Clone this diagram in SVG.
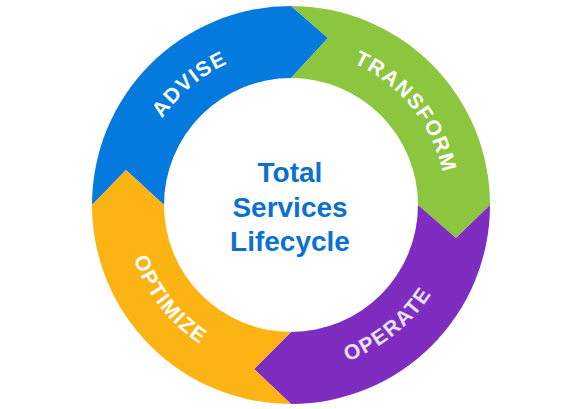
<svg xmlns="http://www.w3.org/2000/svg" xmlns:xlink="http://www.w3.org/1999/xlink" width="581" height="409" viewBox="0 0 581 409">
<style>
.lbl{font-family:"Liberation Sans",Arial,sans-serif;font-weight:bold;font-size:21px;letter-spacing:1.5px;fill:#ffffff}
.ctr{font-family:"Liberation Sans",Arial,sans-serif;font-weight:bold;font-size:28px;fill:#0B70D0;text-anchor:middle}
</style>
<defs>
<path id="pAdvise" d="M138.4,231.9 A155,155 0 0 1 344.0,59.3"/>
<path id="pTransform" d="M266.8,51.9 A155,155 0 0 1 435.7,260.6"/>
<path id="pOperate" d="M231.1,360.9 A168,168 0 0 0 455.9,178.9"/>
<path id="pOptimize" d="M136.2,142.4 A168,168 0 0 0 314.2,370.4"/>
</defs>
<rect width="581" height="409" fill="#ffffff"/>
<g id="advise">
<path d="M92,205 A199,199 0 0 1 291,6 L328,38 L291,78 A127,127 0 0 0 164,205 L126,170 Z" fill="#0479DE"/>
<text class="lbl"><textPath href="#pAdvise" xlink:href="#pAdvise" startOffset="50%" text-anchor="middle">ADVISE</textPath></text>
</g>
<g id="transform">
<path d="M291,6 A199,199 0 0 1 490,205 L456,238 L418,205 A127,127 0 0 0 291,78 L328,38 Z" fill="#8CC63E"/>
<text class="lbl"><textPath href="#pTransform" xlink:href="#pTransform" startOffset="50%" text-anchor="middle">TRANSFORM</textPath></text>
</g>
<g id="operate">
<path d="M490,205 A199,199 0 0 1 291,404 L254,369 L291,332 A127,127 0 0 0 418,205 L456,238 Z" fill="#7F2CC1"/>
<text class="lbl" style="fill:#E6E2F7"><textPath href="#pOperate" xlink:href="#pOperate" startOffset="50%" text-anchor="middle">OPERATE</textPath></text>
</g>
<g id="optimize">
<path d="M291,404 A199,199 0 0 1 92,205 L126,170 L164,205 A127,127 0 0 0 291,332 L254,369 Z" fill="#FCB415"/>
<text class="lbl"><textPath href="#pOptimize" xlink:href="#pOptimize" startOffset="50%" text-anchor="middle">OPTIMIZE</textPath></text>
</g>
<g id="center">
<text class="ctr" x="290" y="182">Total</text>
<text class="ctr" x="290" y="217">Services</text>
<text class="ctr" x="290" y="251">Lifecycle</text>
</g>
</svg>
